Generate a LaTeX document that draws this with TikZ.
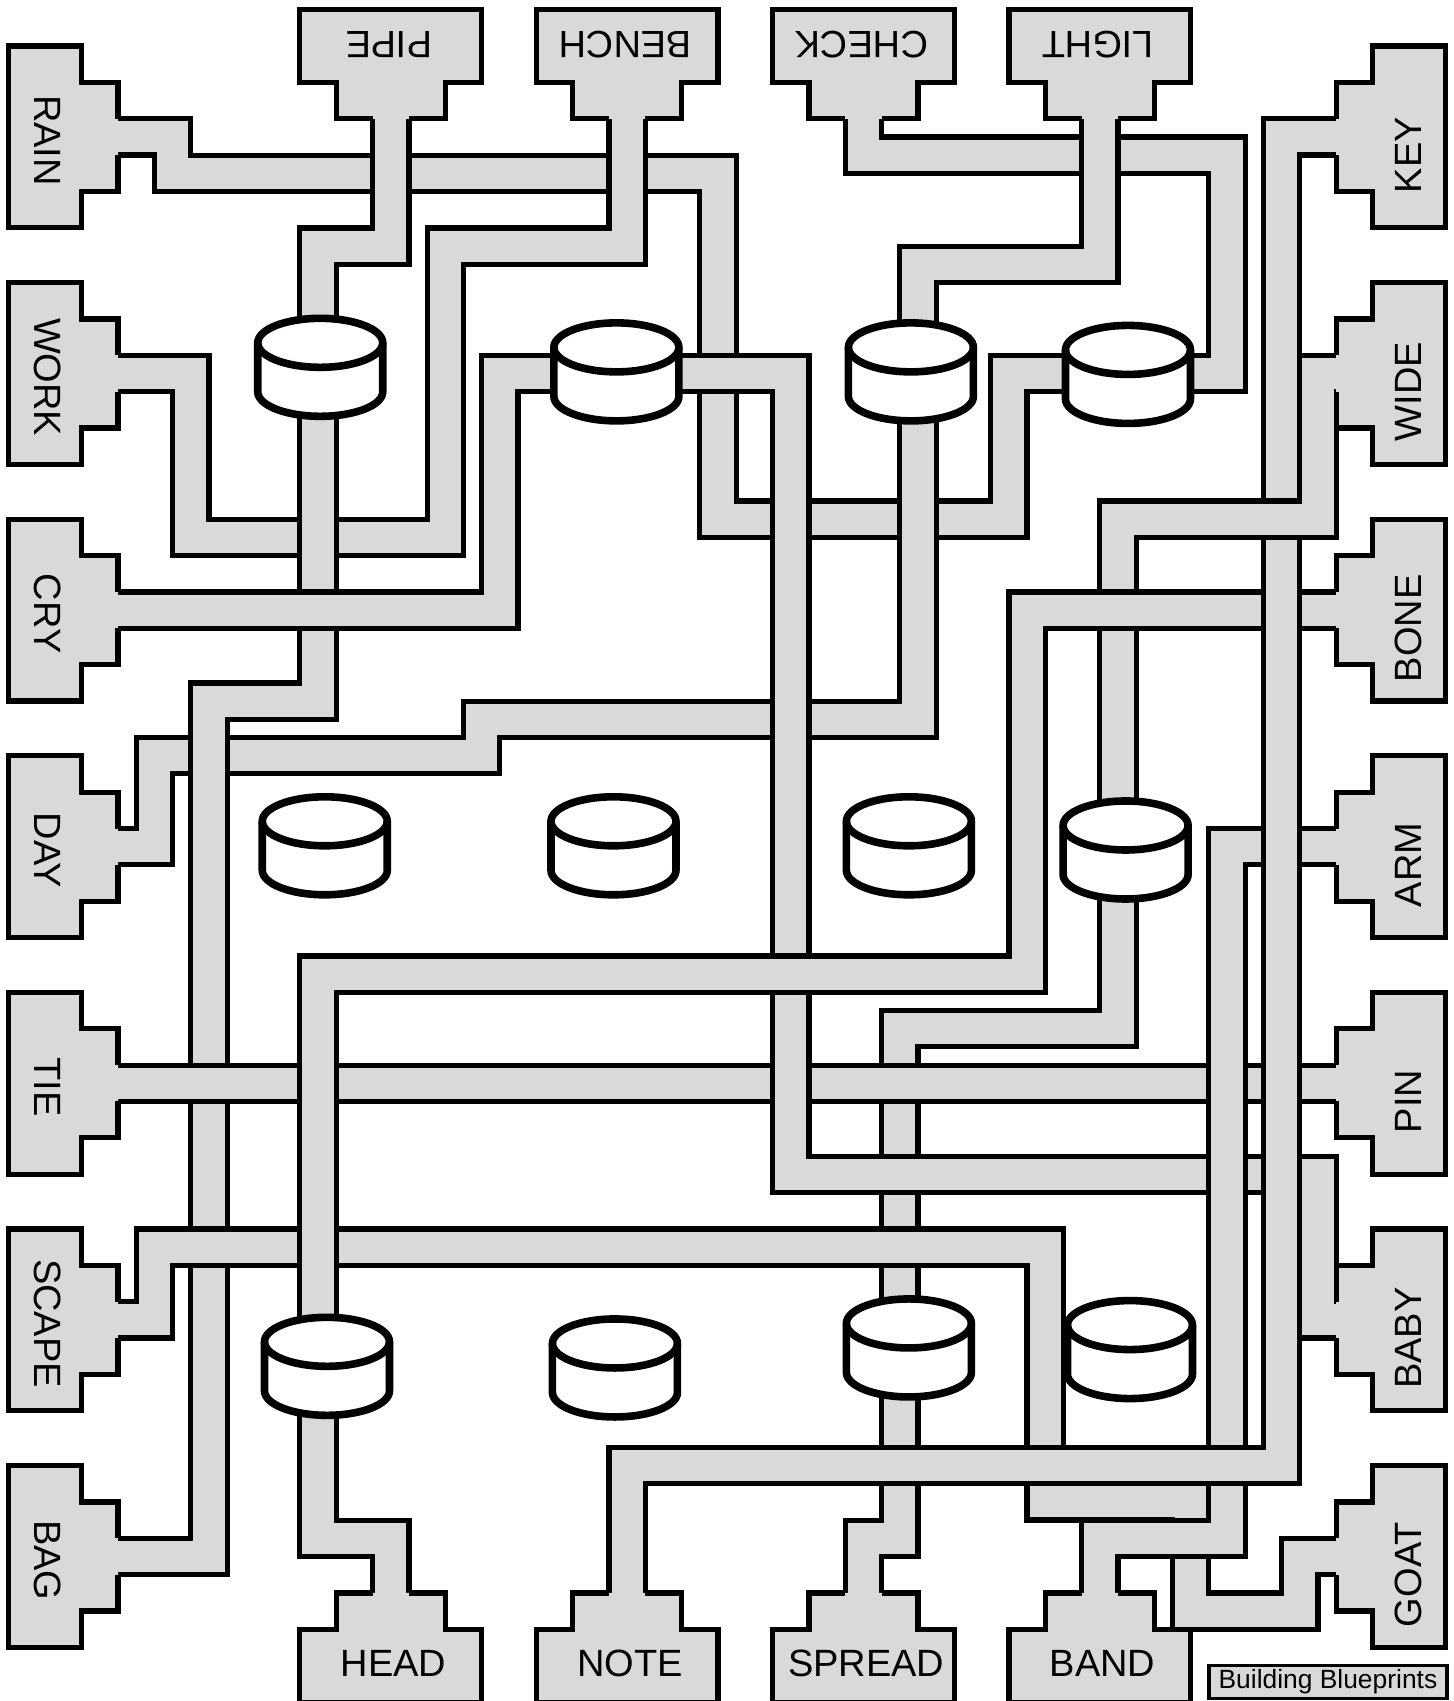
\documentclass[tikz,border=0pt]{standalone}
\usepackage{fontspec}
\setmainfont{Liberation Sans}
\definecolor{wiregray}{HTML}{D9D9D9}
\tikzset{wire/.style = {line width = 2.6pt, double = wiregray, double distance = 15.58pt}}
\tikzset{plugbody/.style = {fill = wiregray, draw = black, line width = 2.6pt}}
\tikzset{plugtext/.style = {font = \fontsize{19}{22}\selectfont, inner sep = 0pt, transform shape}}
\tikzset{tankspot/.style = {minimum width = 62.5pt, minimum height = 49pt, inner sep = 0pt, outer sep = 0pt}}
\tikzset{tankline/.style = {draw, fill = white, line width = 3.8pt, x radius = 31.25pt, y radius = 12.25pt}}
\tikzset{stamp/.style = {draw, fill = wiregray, line width = 1.7pt, minimum width = 119pt, minimum height = 16.5pt, inner sep = 0pt, font = \fontsize{13.2}{15}\selectfont}}
\newcommand{\plug}[4]{
	\begin{scope}[shift = {(#1)}, rotate = #3]
		\fill[wiregray] (-0.85, -0.15) rectangle (0.85, 0.15);
		\draw[plugbody] (-1, 0) -- (-3, 0) -- (-3, 2) -- (-5, 2) -- (-5, 6) -- (5, 6) -- (5, 2) -- (3, 2) -- (3, 0) -- (1, 0);
		\node[plugtext] (#1text) at #4 {#2};
	\end{scope}
}
\newcommand{\tank}[2]{
	\node[tankspot] (#1) at #2 {};
	\draw[tankline] ([yshift = -12.25pt]#1.north west) -- ([yshift = 12.25pt]#1.south west) arc[start angle = 180, end angle = 360] -- ([yshift = -12.25pt]#1.north east) arc[start angle = 0, end angle = 180] -- cycle;
	\draw[tankline, fill = none] ([yshift = -12.25pt]#1.north west) arc[start angle = 180, end angle = 360];
}

\begin{document}
\begin{tikzpicture}[x = 9.09pt, y = -9.1pt]
	\useasboundingbox (-0.495, -0.522) rectangle (79.43, 92.94);

	\coordinate (rain) at (6, 7);
	\coordinate (work) at (6, 20);
	\coordinate (cry) at (6, 33);
	\coordinate (day) at (6, 46);
	\coordinate (tie) at (6, 59);
	\coordinate (scape) at (6, 72);
	\coordinate (bag) at (6, 85);
	\coordinate (key) at (73, 7);
	\coordinate (wide) at (73, 20);
	\coordinate (bone) at (73, 33);
	\coordinate (arm) at (73, 46);
	\coordinate (pinn) at (73, 59);
	\coordinate (baby) at (73, 72);
	\coordinate (goat) at (73, 85);
	\coordinate (pipe) at (21, 6);
	\coordinate (bench) at (34, 6);
	\coordinate (check) at (47, 6);
	\coordinate (light) at (60, 6);
	\coordinate (head) at (21, 87);
	\coordinate (note) at (34, 87);
	\coordinate (spread) at (47, 87);
	\coordinate (band) at (60, 87);
	\coordinate (keyup) at (70, 28);
	\coordinate (keydown) at (70, 29.14);

	\draw[wire] (key) -- (70, 7) -- (keyup);
	\draw[wire] (rain) -- (9, 7) -- (9, 9) -- (39, 9) -- (39, 28) -- (55, 28) -- (55, 20) -- (67, 20) -- (67, 8) -- (47, 8) -- (check);
	\draw[wire] (work) -- (10, 20) -- (10, 29) -- (24, 29) -- (24, 13) -- (34, 13) -- (bench);
	\draw[wire] (day) -- (8, 46) -- (8, 41) -- (26, 41) -- (26, 39) -- (50, 39) -- (50, 14) -- (60, 14) -- (light);
	\draw[wire] (wide) -- (72, 20) -- (72, 28) -- (61, 28) -- (61, 56) -- (49, 56) -- (49, 84) -- (47, 84) -- (spread);
	\draw[wire] (pipe) -- (21, 13) -- (17, 13) -- (17, 38) -- (11, 38) -- (11, 85) -- (bag);
	\draw[wire] (tie) -- (pinn);
	\draw[wire] (cry) -- (27, 33) -- (27, 20) -- (43, 20) -- (43, 64) -- (72, 64) -- (72, 72) -- (baby);
	\draw[wire] (scape) -- (8, 72) -- (8, 68) -- (57, 68) -- (57, 82) -- (65, 82) -- (65, 88) -- (71, 88) -- (71, 85) -- (goat);
	\draw[wire] (arm) -- (67, 46) -- (67, 84) -- (60, 84) -- (band);
	\draw[wire] (bone) -- (56, 33) -- (56, 53) -- (17, 53) -- (17, 84) -- (21, 84) -- (head);
	\draw[wire] (keydown) -- (70, 80) -- (34, 80) -- (note);

	\plug{rain}{RAIN}{-90}{(0.2, 3.9)}
	\plug{work}{WORK}{-90}{(0.2, 3.9)}
	\plug{cry}{CRY}{-90}{(0.2, 3.9)}
	\plug{day}{DAY}{-90}{(0.2, 3.9)}
	\plug{tie}{TIE}{-90}{(0.2, 3.9)}
	\plug{scape}{SCAPE}{-90}{(0.2, 3.9)}
	\plug{bag}{BAG}{-90}{(0.2, 3.9)}
	\plug{key}{KEY}{90}{(-1, 3.98)}
	\plug{wide}{WIDE}{90}{(-1, 3.98)}
	\plug{bone}{BONE}{90}{(-1, 3.98)}
	\plug{arm}{ARM}{90}{(-1, 3.98)}
	\plug{pinn}{PIN}{90}{(-1, 3.98)}
	\plug{baby}{BABY}{90}{(-1, 3.98)}
	\plug{goat}{GOAT}{90}{(-1, 3.98)}
	\plug{pipe}{PIPE}{180}{(0.1, 4.1)}
	\plug{bench}{BENCH}{180}{(0.1, 4.1)}
	\plug{check}{CHECK}{180}{(0.1, 4.1)}
	\plug{light}{LIGHT}{180}{(0.1, 4.1)}
	\plug{head}{HEAD}{0}{(0.15, 3.9)}
	\plug{note}{NOTE}{0}{(0.15, 3.9)}
	\plug{spread}{SPREAD}{0}{(0.15, 3.9)}
	\plug{band}{BAND}{0}{(0.15, 3.9)}

	\tank{t1}{(17.12, 19.66)}
	\tank{t2}{(33.41, 19.91)}
	\tank{t3}{(49.61, 19.91)}
	\tank{t4}{(61.55, 20.05)}
	\tank{t5}{(17.37, 45.95)}
	\tank{t6}{(33.25, 45.95)}
	\tank{t7}{(49.5, 45.95)}
	\tank{t8}{(61.42, 46.18)}
	\tank{t9}{(17.49, 74.55)}
	\tank{t10}{(33.33, 74.64)}
	\tank{t11}{(49.5, 73.54)}
	\tank{t12}{(61.66, 73.63)}

	\node[stamp] (title) at (72.55, 91.9) {Building Blueprints};
\end{tikzpicture}
\end{document}
